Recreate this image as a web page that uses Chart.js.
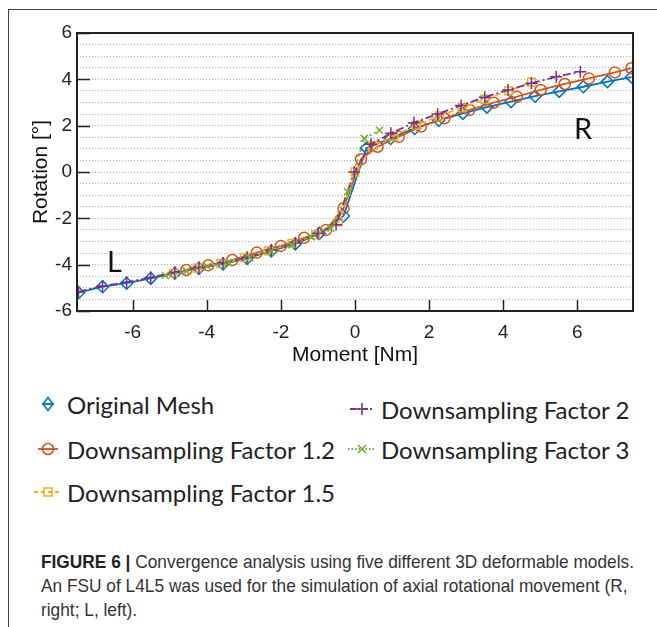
<!DOCTYPE html>
<html>
<head>
<meta charset="utf-8">
<script src="https://cdn.jsdelivr.net/npm/chart.js@4.4.0/dist/chart.umd.min.js"></script>
<style>
  html, body { margin: 0; padding: 0; background: #fff; }
  body { width: 657px; height: 627px; position: relative; overflow: hidden; }
  #frame { position: absolute; left: 8px; top: 9px; width: 660px; height: 630px;
           border-left: 1.5px solid #444; border-top: 1.5px solid #444; }
  #chartBox { position: absolute; left: 0; top: 0; width: 657px; height: 370px; }
  .side { position: absolute; font-family: Lato, "Open Sans", sans-serif; font-size: 29px;
          color: #111; line-height: 1; }
  .leg { position: absolute; height: 30px; display: flex; align-items: center; white-space: nowrap;
         font-family: Lato, "Open Sans", sans-serif; font-size: 24px; color: #222; }
  .leg svg { margin-right: 5px; }
  .cap { position: absolute; left: 41px; white-space: nowrap; color: #333;
         font-family: "Liberation Sans", Arial, sans-serif;
         font-size: 19px; line-height: 24px; transform-origin: 0 0; }
  .cap b { color: #222; }
</style>
</head>
<body>
<div id="frame"></div>
<div id="chartBox"><canvas id="chart" width="657" height="370"></canvas></div>
<div class="side" style="left:107px; top:246px;">L</div>
<div class="side" style="left:574px; top:113px;">R</div>
<div id="legend"></div>
<div class="cap" style="top:550px;"><b>FIGURE 6 |</b> Convergence analysis using five different 3D deformable models.</div>
<div class="cap" style="top:574px;">An FSU of L4L5 was used for the simulation of axial rotational movement (R,</div>
<div class="cap" style="top:598px;">right; L, left).</div>
<script>
// valeurs
const xTickLabels = [-6, -4, -2, 0, 2, 4, 6];
const yTickLabels = [-6, -4, -2, 0, 2, 4, 6];

const origX = [-7.46, -6.81, -6.16, -5.51, -4.86, -4.21, -3.56, -2.91, -2.26, -1.61, -0.96, -0.31,
               0.31, 0.96, 1.61, 2.26, 2.91, 3.56, 4.21, 4.86, 5.51, 6.16, 6.81, 7.46];
const origY = [-5.21, -4.95, -4.80, -4.59, -4.37, -4.16, -3.97, -3.73, -3.41, -3.10, -2.65, -1.90,
               1.03, 1.45, 1.88, 2.23, 2.53, 2.80, 3.04, 3.27, 3.48, 3.68, 3.90, 4.10];

const f12X = [-4.55, -3.96, -3.31, -2.65, -2.00, -1.37, -0.78, -0.31, 0.16, 0.61, 1.18, 1.78,
              2.41, 3.09, 3.74, 4.37, 5.01, 5.66, 6.31, 7.01, 7.46];
const f12Y = [-4.23, -4.03, -3.80, -3.48, -3.19, -2.84, -2.50, -1.57, 0.55, 1.09, 1.52, 1.96,
              2.32, 2.68, 2.99, 3.25, 3.54, 3.80, 4.04, 4.30, 4.48];

const f15X = [-4.90, -4.26, -3.62, -2.98, -2.34, -1.70, -1.06, -0.45, 0.00, 0.48, 1.05, 1.65,
              2.28, 2.90, 3.50, 4.14, 4.76];
const f15Y = [-4.38, -4.15, -3.95, -3.70, -3.40, -3.08, -2.70, -2.15, 0.00, 1.15, 1.55, 2.02,
              2.42, 2.78, 3.14, 3.50, 3.88];

const f2X = [-7.46, -6.81, -6.16, -5.51, -4.86, -4.21, -3.56, -2.91, -2.26, -1.61, -1.00, -0.51,
             -0.02, 0.43, 0.97, 1.59, 2.23, 2.86, 3.50, 4.13, 4.76, 5.43, 6.08];
const f2Y = [-5.17, -4.92, -4.76, -4.55, -4.33, -4.12, -3.93, -3.69, -3.37, -3.06, -2.66, -2.28,
             0.00, 1.20, 1.67, 2.13, 2.50, 2.87, 3.23, 3.54, 3.83, 4.11, 4.33];

const f3X = [-5.12, -4.55, -3.98, -3.41, -2.84, -2.27, -1.70, -1.19, -0.65, -0.20, 0.25, 0.66];
const f3Y = [-4.47, -4.27, -4.08, -3.91, -3.70, -3.41, -3.14, -2.80, -2.43, -0.85, 1.45, 1.80];

const seriesNames = ['Original Mesh', 'Downsampling Factor 1.2', 'Downsampling Factor 1.5',
                     'Downsampling Factor 2', 'Downsampling Factor 3'];
const colors = ['#0072BD', '#D95319', '#EDB120', '#7E2F8E', '#77AC30'];

function pts(xs, ys) { return xs.map((x, i) => ({ x: x, y: ys[i] })); }

function serie(i, xs, ys, style, dash, radius, order) {
  return {
    label: seriesNames[i],
    data: pts(xs, ys),
    showLine: true,
    borderColor: colors[i],
    borderWidth: 1.8,
    borderDash: dash,
    pointStyle: style,
    pointRadius: radius,
    pointBorderWidth: 1.5,
    pointBorderColor: colors[i],
    pointBackgroundColor: 'rgba(255,255,255,0)',
    tension: 0,
    order: order
  };
}

// cadre + petites graduations vers l'interieur
const frameTicks = {
  id: 'frameTicks',
  afterDatasetsDraw(chart) {
    const { ctx, chartArea: a, scales: { x, y } } = chart;
    ctx.save();
    ctx.strokeStyle = '#222';
    ctx.lineWidth = 1.5;
    ctx.beginPath();
    xTickLabels.forEach(v => {
      const px = Math.round(x.getPixelForValue(v)) + 0.5;
      ctx.moveTo(px, a.bottom);
      ctx.lineTo(px, a.bottom - 11);
    });
    yTickLabels.forEach(v => {
      const py = Math.round(y.getPixelForValue(v)) + 0.5;
      ctx.moveTo(a.left, py);
      ctx.lineTo(a.left + 13, py);
    });
    ctx.stroke();
    ctx.lineWidth = 2;
    ctx.strokeRect(a.left, a.top, a.right - a.left, a.bottom - a.top);
    ctx.restore();
  }
};

const gridVals = [];
for (let v = -6; v <= 6; v += 0.5) gridVals.push(v);

new Chart(document.getElementById('chart'), {
  type: 'scatter',
  data: {
    datasets: [
      serie(0, origX, origY, 'rectRot', [], 6, 5),
      serie(1, f12X, f12Y, 'circle', [], 5.5, 4),
      serie(2, f15X, f15Y, 'rect', [6, 4], 5.5, 3),
      serie(3, f2X, f2Y, 'cross', [8, 3, 2, 3], 6, 2),
      serie(4, f3X, f3Y, 'crossRot', [2, 3], 5, 1)
    ]
  },
  options: {
    responsive: false,
    devicePixelRatio: 1,
    animation: false,
    layout: { padding: { top: 33, right: 24, left: 0, bottom: 0 } },
    plugins: { legend: { display: false }, tooltip: { enabled: false } },
    scales: {
      x: {
        type: 'linear',
        min: -7.5,
        max: 7.5,
        afterBuildTicks: s => { s.ticks = xTickLabels.map(v => ({ value: v })); },
        afterFit: s => { s.height = 59; },
        grid: { display: false, drawTicks: false },
        border: { display: false },
        ticks: { padding: 10, color: '#222', font: { family: 'Liberation Sans', size: 19 }, maxRotation: 0 },
        title: { display: true, text: 'Moment [Nm]', color: '#111',
                 font: { family: 'Liberation Sans', size: 21 }, padding: { top: 0, bottom: 2 } }
      },
      y: {
        type: 'linear',
        min: -6,
        max: 6,
        afterBuildTicks: s => { s.ticks = gridVals.map(v => ({ value: v })); },
        afterFit: s => { s.width = 77; },
        grid: { display: true, drawTicks: false, color: '#b0b0b0', lineWidth: 1 },
        border: { display: false, dash: [1, 2] },
        ticks: {
          autoSkip: false,
          padding: 5,
          color: '#222',
          font: { family: 'Liberation Sans', size: 19 },
          callback: v => yTickLabels.includes(v) ? String(v) : ''
        },
        title: { display: true, text: 'Rotation [°]', color: '#111',
                 font: { family: 'Liberation Sans', size: 21 }, padding: { top: 29, bottom: 0 } }
      }
    }
  },
  plugins: [frameTicks]
});

// legende en HTML
const markerSvg = {
  rectRot: c => `<path d="M14 3.5 L19 10 L14 16.5 L9 10 Z" fill="none" stroke="${c}" stroke-width="1.6"/>`,
  circle: c => `<circle cx="14" cy="10" r="5.5" fill="none" stroke="${c}" stroke-width="1.6"/>`,
  rect: c => `<rect x="10" y="6" width="8" height="8" fill="none" stroke="${c}" stroke-width="1.6"/>`,
  cross: c => `<path d="M14 4 V16 M8 10 H20" stroke="${c}" stroke-width="1.6"/>`,
  crossRot: c => `<path d="M10 6 L18 14 M18 6 L10 14" stroke="${c}" stroke-width="1.6"/>`
};
const legItems = [
  { i: 0, style: 'rectRot', dash: '', x: 34, y: 404, lineFrom: 8, lineTo: 20 },
  { i: 1, style: 'circle', dash: '', x: 34, y: 449, lineFrom: 4, lineTo: 24 },
  { i: 2, style: 'rect', dash: '4 3', x: 34, y: 492, lineFrom: 0, lineTo: 28 },
  { i: 3, style: 'cross', dash: '6 2 2 2', x: 348, y: 409, lineFrom: 2, lineTo: 26 },
  { i: 4, style: 'crossRot', dash: '1.5 2', x: 348, y: 449, lineFrom: 0, lineTo: 28 }
];
const legend = document.getElementById('legend');
legItems.forEach(it => {
  const c = colors[it.i];
  const div = document.createElement('div');
  div.className = 'leg';
  div.style.left = it.x + 'px';
  div.style.top = (it.y - 15) + 'px';
  div.innerHTML = `<svg width="28" height="20"><line x1="${it.lineFrom}" y1="10" x2="${it.lineTo}" y2="10" stroke="${c}" stroke-width="1.8" stroke-dasharray="${it.dash}"/>${markerSvg[it.style](c)}</svg><span>${seriesNames[it.i]}</span>`;
  legend.appendChild(div);
});

// legende du bas : police etroite, on resserre la premiere ligne a 593 px
const caps = document.querySelectorAll('.cap');
const k = 593 / caps[0].getBoundingClientRect().width;
caps.forEach(c => { c.style.transform = 'scaleX(' + k + ')'; });
</script>
</body>
</html>
